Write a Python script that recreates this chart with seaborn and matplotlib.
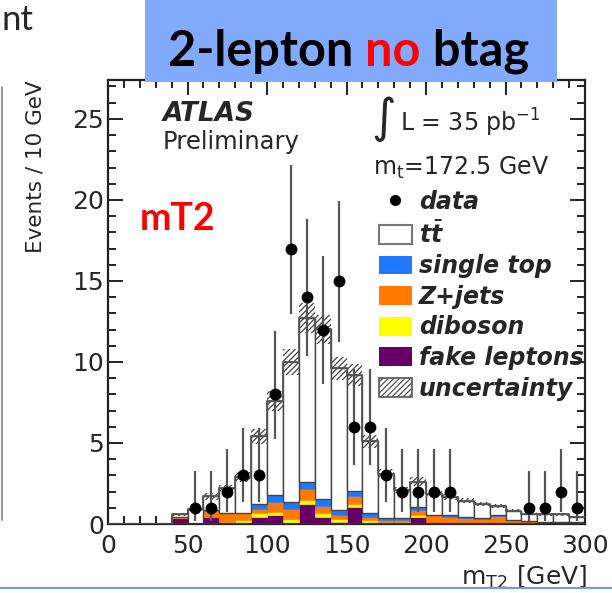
import numpy as np
import pandas as pd
import matplotlib
matplotlib.use("Agg")
import matplotlib.pyplot as plt
import seaborn as sns
from matplotlib.patches import Patch, Rectangle
from matplotlib.lines import Line2D
from matplotlib.ticker import MultipleLocator

# ---------------- data ----------------
bin_edges = [0, 10, 20, 30, 40, 50, 60, 70, 80, 90, 100, 110, 120, 130, 140, 150,
             160, 170, 180, 190, 200, 210, 220, 230, 240, 250, 260, 270, 280, 290, 300]
bin_centres = [5, 15, 25, 35, 45, 55, 65, 75, 85, 95, 105, 115, 125, 135, 145, 155,
               165, 175, 185, 195, 205, 215, 225, 235, 245, 255, 265, 275, 285, 295]

fake_leptons = [0, 0, 0, 0, 0.35, 0, 0.45, 0, 0, 0.45, 0.56, 0.05, 1.23, 0.45, 0.10, 1.03,
                0.05, 0.02, 0, 0.41, 0, 0, 0, 0, 0, 0, 0, 0, 0, 0]
diboson = [0, 0, 0, 0, 0, 0, 0, 0.10, 0.25, 0.20, 0.20, 0.25, 0.25, 0.21, 0.20, 0.20,
           0.20, 0.13, 0.14, 0.15, 0.03, 0.03, 0.03, 0.03, 0.03, 0.02, 0.02, 0.02, 0.02, 0.02]
z_jets = [0, 0, 0, 0, 0.10, 0, 0.37, 0.55, 0.40, 0.30, 0.62, 0.65, 0.66, 0.45, 0.25, 0.50,
          0.20, 0.10, 0.13, 0.30, 0.50, 0.40, 0.32, 0.25, 0.45, 0.22, 0.14, 0.10, 0.10, 0.08]
single_top = [0, 0, 0, 0, 0, 0, 0.03, 0.05, 0.05, 0.30, 0.41, 0.40, 0.47, 0.41, 0.30, 0.31,
              0.25, 0.14, 0.12, 0.21, 0.05, 0.10, 0.10, 0.08, 0.10, 0.03, 0.03, 0.02, 0.02, 0.02]
ttbar = [0, 0, 0, 0, 0.15, 0.90, 0.85, 1.50, 2.20, 4.15, 5.80, 8.65, 10.10, 10.50, 8.75, 7.15,
         4.40, 2.70, 1.70, 1.55, 1.30, 1.15, 1.00, 0.90, 0.55, 0.55, 0.45, 0.45, 0.45, 0.33]
mc_uncertainty = [0, 0, 0, 0, 0.10, 0.10, 0.20, 0.20, 0.30, 0.45, 0.60, 0.80, 0.90, 0.90, 0.70, 0.70,
                  0.40, 0.30, 0.20, 0.25, 0.20, 0.20, 0.15, 0.12, 0.12, 0.10, 0.08, 0.08, 0.08, 0.06]

data_counts = [0, 0, 0, 0, 0, 1, 1, 2, 3, 3, 8, 17, 14, 12, 15, 6, 6, 3, 2, 2, 2, 2,
               0, 0, 0, 0, 1, 1, 2, 1]
data_err_lo = [0, 0, 0, 0, 0, 0.83, 0.83, 1.29, 1.63, 1.63, 2.77, 4.02, 3.65, 3.39, 3.78, 2.38,
               2.38, 1.63, 1.29, 1.29, 1.29, 1.29, 0, 0, 0, 0, 0.83, 0.83, 1.29, 0.83]
data_err_hi = [0, 0, 0, 0, 0, 2.30, 2.30, 2.64, 2.92, 2.92, 3.94, 5.16, 4.81, 4.55, 4.93, 3.58,
               3.58, 2.92, 2.64, 2.64, 2.64, 2.64, 0, 0, 0, 0, 2.30, 2.30, 2.64, 2.30]

process_names = [r"$t\bar{t}$", "single top", "Z+jets", "diboson", "fake leptons"]
process_colors = ["#ffffff", "#1f78ff", "#ff7a00", "#ffff00", "#660066"]

# ---------------- style ----------------
sns.set_style("ticks")
plt.rcParams["font.family"] = ["DejaVu Sans"]
plt.rcParams["mathtext.fontset"] = "custom"
plt.rcParams["mathtext.it"] = "DejaVu Sans:italic:bold"
plt.rcParams["mathtext.rm"] = "DejaVu Sans"
plt.rcParams["hatch.linewidth"] = 0.9

W, H = 612, 593
fig = plt.figure(figsize=(W / 100, H / 100), dpi=100)
fig.patch.set_facecolor("white")

ax_l, ax_r, ax_t, ax_b = 108, 585, 80, 524
ax = fig.add_axes([ax_l / W, (H - ax_b) / H, (ax_r - ax_l) / W, (ax_b - ax_t) / H])

# ---------------- stacked MC via seaborn ----------------
stack_values = [ttbar, single_top, z_jets, diboson, fake_leptons]
rows = []
for name, vals in zip(process_names, stack_values):
    for c, v in zip(bin_centres, vals):
        rows.append({"mT2": c, "events": v, "process": name})
df = pd.DataFrame(rows)

sns.histplot(data=df, x="mT2", weights="events", hue="process",
             hue_order=process_names, palette=dict(zip(process_names, process_colors)),
             multiple="stack", bins=bin_edges, element="bars", alpha=1,
             edgecolor="#444444", linewidth=1.0, legend=False, ax=ax)
for p in ax.patches:
    fc = p.get_facecolor()
    if fc[:3] != (1.0, 1.0, 1.0):
        p.set_edgecolor(fc)
        p.set_linewidth(0.4)

total = np.sum(np.array(stack_values), axis=0)
unc = np.array(mc_uncertainty)
ax.bar(bin_centres, 2 * unc, bottom=total - unc, width=10, fill=False,
       hatch="//////", edgecolor="#444444", linewidth=0, zorder=4)
ax.step(bin_edges, np.append(total, total[-1]), where="post", color="#555555", lw=1.3, zorder=4)
ax.axhline(0, color="#5a3030", lw=1.2, zorder=3)

# ---------------- data points ----------------
dc = np.array(data_counts, dtype=float)
mask = dc > 0
xc = np.array(bin_centres)[mask]
ax.errorbar(xc, dc[mask], yerr=[np.array(data_err_lo)[mask], np.array(data_err_hi)[mask]],
            fmt="o", color="black", ecolor="#555555", elinewidth=1.6, ms=7.5,
            capsize=0, zorder=6)

# ---------------- axes ----------------
ax.set_xlim(0, 300)
ax.set_ylim(0, 27.4)
ax.xaxis.set_major_locator(MultipleLocator(50))
ax.xaxis.set_minor_locator(MultipleLocator(10))
ax.yaxis.set_major_locator(MultipleLocator(5))
ax.yaxis.set_minor_locator(MultipleLocator(1))
ax.tick_params(which="both", direction="in", top=True, right=True, width=1.4, color="#222222")
ax.tick_params(which="major", length=11, labelsize=18)
ax.tick_params(which="minor", length=6)
ax.tick_params(axis="y", pad=3)
ax.tick_params(axis="x", pad=7)
for s in ax.spines.values():
    s.set_linewidth(1.6)
    s.set_color("#222222")

ax.set_ylabel("Events / 10 GeV", loc="top", fontsize=15.5)
ax.yaxis.set_label_coords(-0.132, 1.0)
ax.set_xlabel(r"m$_\mathrm{T2}$ [GeV]", loc="right", fontsize=18)
ax.xaxis.set_label_coords(1.005, -0.09)

# ---------------- texts in the plot ----------------
ax.text(0.115, 0.923, "ATLAS", transform=ax.transAxes, fontsize=19, fontweight="bold",
        fontstyle="italic", va="center")
ax.text(0.115, 0.860, "Preliminary", transform=ax.transAxes, fontsize=17.5, va="center")
ax.text(0.552, 0.912, "\u222b", transform=ax.transAxes, fontsize=34, va="center")
ax.text(0.612, 0.903, r"L = 35 pb$^\mathrm{-1}$", transform=ax.transAxes, fontsize=17, va="center")
ax.text(0.556, 0.802, r"m$_\mathrm{t}$=172.5 GeV", transform=ax.transAxes, fontsize=17, va="center")
ax.text(0.067, 0.662, "mT2", transform=ax.transAxes, fontsize=27, fontweight="bold",
        color="#ff0000", family="Lato", va="baseline")

handles = [Line2D([], [], marker="o", color="black", ls="", ms=7)]
handles += [Patch(facecolor=c, edgecolor="#777777" if i == 0 else c, linewidth=1.5 if i == 0 else 0)
            for i, c in enumerate(process_colors)]
handles += [Patch(facecolor="white", edgecolor="#555555", hatch="//////", linewidth=1.2)]
labels = ["data"] + process_names + ["uncertainty"]
leg = ax.legend(handles, labels, loc="upper left", bbox_to_anchor=(0.568, 0.752),
                frameon=False, borderpad=0, borderaxespad=0, handlelength=1.4,
                handleheight=0.85, handletextpad=0.3, labelspacing=0.28,
                prop={"family": "DejaVu Sans", "weight": "bold", "style": "italic", "size": 17})

# ---------------- slide decorations ----------------
fig.add_artist(Rectangle((145 / W, (H - 82) / H), (557 - 145) / W, 82 / H,
                         transform=fig.transFigure, facecolor="#82aaff", edgecolor="none", zorder=3))
t1 = fig.text(168 / W, (H - 66) / H, "2-lepton ", fontsize=35, fontweight="bold",
              family="Lato", color="black", va="baseline", zorder=4)
t2 = fig.text(0, 0, "no", fontsize=35, fontweight="bold", family="Lato", color="#ff0000",
              va="baseline", zorder=4)
t3 = fig.text(0, 0, " btag", fontsize=35, fontweight="bold", family="Lato", color="black",
              va="baseline", zorder=4)
fig.canvas.draw()
r = fig.canvas.get_renderer()
bb1 = t1.get_window_extent(r)
t2.set_position((bb1.x1 / W, (H - 66) / H))
fig.canvas.draw()
bb2 = t2.get_window_extent(r)
t3.set_position((bb2.x1 / W, (H - 66) / H))

fig.text(1.5 / W, (H - 30) / H, "nt", fontsize=25, family="Lato", ha="left", va="baseline")
fig.add_artist(Line2D([2 / W, 2 / W], [(H - 87) / H, (H - 520) / H], transform=fig.transFigure,
                      color="#9a9a9a", lw=1.5))
fig.add_artist(Line2D([0, 1], [(H - 588) / H, (H - 588) / H], transform=fig.transFigure,
                      color="#6e9fdc", lw=1.5, zorder=5))

fig.savefig("out.png", dpi=100)
